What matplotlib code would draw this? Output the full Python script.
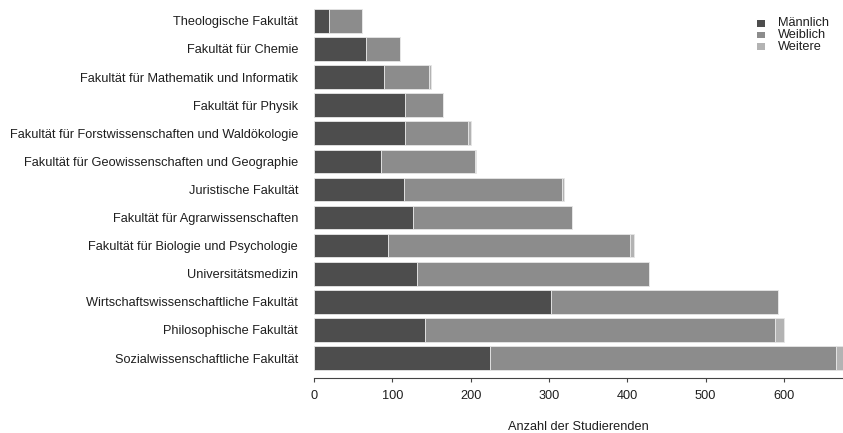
import matplotlib
matplotlib.use("Agg")
import matplotlib.pyplot as plt
from matplotlib.patches import Rectangle
import numpy as np

plt.rcParams['font.family'] = ['Liberation Sans', 'DejaVu Sans']

faculties = [
    "Theologische Fakultät",
    "Fakultät für Chemie",
    "Fakultät für Mathematik und Informatik",
    "Fakultät für Physik",
    "Fakultät für Forstwissenschaften und Waldökologie",
    "Fakultät für Geowissenschaften und Geographie",
    "Juristische Fakultät",
    "Fakultät für Agrarwissenschaften",
    "Fakultät für Biologie und Psychologie",
    "Universitätsmedizin",
    "Wirtschaftswissenschaftliche Fakultät",
    "Philosophische Fakultät",
    "Sozialwissenschaftliche Fakultät",
]
maennlich = [19, 67, 89, 116, 116, 85, 115, 127, 95, 131, 302, 142, 225]
weiblich = [42, 43, 58, 49, 81, 121, 202, 202, 308, 297, 290, 447, 441]
weitere = [0, 0, 2, 0, 3, 1, 2, 0, 5, 0, 0, 11, 15]
series_names = ["Männlich", "Weiblich", "Weitere"]
colors = ["#4d4d4d", "#8c8c8c", "#b3b3b3"]
xticks = [0, 100, 200, 300, 400, 500, 600]
xlabel = "Anzahl der Studierenden"

FS = 9.2
TXT = "#1e1e1e"
W, H = 843, 433
fig = plt.figure(figsize=(W / 100, H / 100), dpi=100)
ax = fig.add_axes([314 / W, 1 - 377.7 / H, 1 - 314 / W, 377.7 / H])

n = len(faculties)
ypos = np.arange(n)[::-1]  # first faculty on top
m = np.array(maennlich)
w = np.array(weiblich)
o = np.array(weitere)
bh = 0.84
kw = dict(height=bh, edgecolor="#e6e6e6", linewidth=0.6)
b1 = ax.barh(ypos, m, color=colors[0], **kw)
b2 = ax.barh(ypos, w, left=m, color=colors[1], **kw)
b3 = ax.barh(ypos, o, left=m + w, color=colors[2], **kw)

ax.set_xlim(0, 675.3)
ax.set_ylim(-0.70, 12.74)
ax.set_yticks(ypos)
ax.set_yticklabels(faculties, fontsize=FS, color=TXT)
ax.tick_params(axis="y", length=0, pad=11.5)
ax.set_xticks(xticks)
ax.set_xticklabels([str(t) for t in xticks], fontsize=FS, color=TXT)
ax.tick_params(axis="x", length=3, width=0.8, color="#444444", pad=6)
for s in ["top", "right", "left"]:
    ax.spines[s].set_visible(False)
ax.spines["bottom"].set_color("#444444")
ax.spines["bottom"].set_linewidth(0.8)

fig.text((314 + 843) / 2 / W, 1 - 427 / H, xlabel, ha="center", va="center",
         fontsize=FS, color=TXT)

# legend (drawn in figure pixel positions)
leg_rows_y = [23.5, 35, 46.5]
for name, col, yc in zip(series_names, colors, leg_rows_y):
    fig.patches.append(Rectangle((757 / W, 1 - (yc + 3) / H), 7.5 / W, 6 / H,
                                 transform=fig.transFigure, facecolor=col,
                                 edgecolor="none"))
    fig.text(778 / W, 1 - yc / H, name, ha="left", va="center",
             fontsize=FS, color=TXT)

fig.savefig("out.png", dpi=100)
